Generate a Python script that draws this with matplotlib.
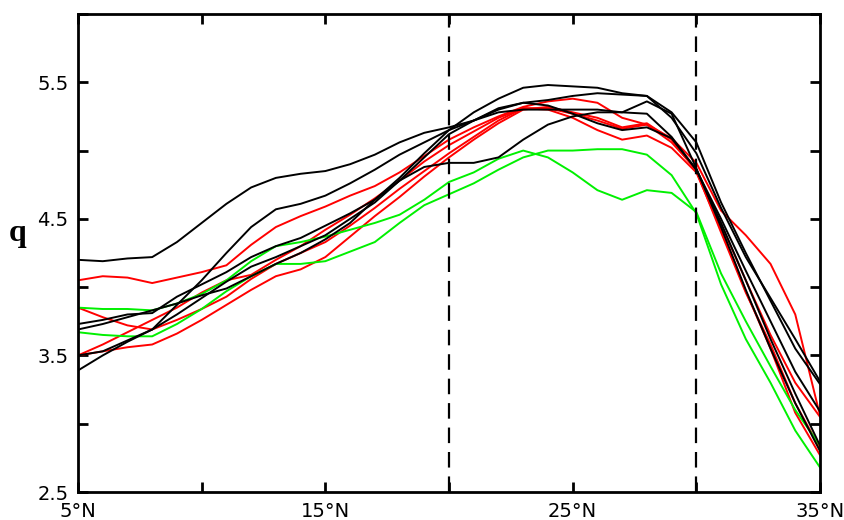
import matplotlib
matplotlib.use("Agg")
import matplotlib.pyplot as plt
import numpy as np

lat = list(range(5, 36))

black_1 = [4.20, 4.19, 4.21, 4.22, 4.33, 4.47, 4.61, 4.73, 4.80, 4.83, 4.85, 4.90, 4.97, 5.06, 5.13, 5.17,
           5.22, 5.28, 5.30, 5.30, 5.30, 5.30, 5.28, 5.27, 5.10, 4.86, 4.47, 4.05, 3.62, 3.22, 2.84]
black_2 = [3.73, 3.76, 3.80, 3.81, 3.93, 4.02, 4.11, 4.22, 4.30, 4.36, 4.45, 4.54, 4.64, 4.80, 4.98, 5.15,
           5.22, 5.30, 5.35, 5.37, 5.40, 5.42, 5.41, 5.40, 5.24, 4.98, 4.58, 4.22, 3.92, 3.62, 3.31]
black_3 = [3.69, 3.73, 3.78, 3.83, 3.88, 3.94, 3.99, 4.08, 4.17, 4.25, 4.35, 4.47, 4.64, 4.78, 4.88, 4.91,
           4.91, 4.95, 5.08, 5.19, 5.25, 5.28, 5.28, 5.36, 5.27, 4.87, 4.44, 3.98, 3.55, 3.15, 2.80]
black_4 = [3.50, 3.53, 3.61, 3.69, 3.80, 3.92, 4.04, 4.15, 4.22, 4.30, 4.38, 4.50, 4.62, 4.78, 4.95, 5.12,
           5.22, 5.31, 5.35, 5.33, 5.27, 5.20, 5.15, 5.17, 5.09, 4.86, 4.50, 4.12, 3.75, 3.38, 3.09]
black_5 = [3.39, 3.50, 3.60, 3.69, 3.87, 4.05, 4.25, 4.44, 4.57, 4.61, 4.67, 4.76, 4.86, 4.97, 5.06, 5.15,
           5.28, 5.38, 5.46, 5.48, 5.47, 5.46, 5.42, 5.40, 5.28, 5.06, 4.62, 4.25, 3.90, 3.55, 3.29]

red_1 = [4.05, 4.08, 4.07, 4.03, 4.07, 4.11, 4.16, 4.31, 4.44, 4.52, 4.59, 4.67, 4.74, 4.84, 4.96, 5.08,
         5.17, 5.25, 5.32, 5.36, 5.38, 5.35, 5.24, 5.19, 5.09, 4.91, 4.56, 4.38, 4.17, 3.80, 3.06]
red_2 = [3.85, 3.78, 3.72, 3.69, 3.76, 3.84, 3.93, 4.06, 4.17, 4.25, 4.33, 4.45, 4.58, 4.72, 4.85, 4.98,
         5.10, 5.22, 5.31, 5.31, 5.27, 5.22, 5.16, 5.19, 5.06, 4.86, 4.46, 4.05, 3.65, 3.30, 3.05]
red_3 = [3.50, 3.58, 3.67, 3.76, 3.85, 3.96, 4.05, 4.09, 4.20, 4.30, 4.42, 4.53, 4.65, 4.78, 4.92, 5.04,
         5.14, 5.24, 5.31, 5.30, 5.24, 5.15, 5.08, 5.11, 5.02, 4.84, 4.42, 3.97, 3.55, 3.08, 2.77]
red_4 = [3.50, 3.53, 3.56, 3.58, 3.66, 3.76, 3.87, 3.98, 4.08, 4.13, 4.22, 4.37, 4.52, 4.66, 4.81, 4.95,
         5.08, 5.20, 5.30, 5.32, 5.28, 5.24, 5.17, 5.20, 5.08, 4.85, 4.40, 3.96, 3.58, 3.15, 2.82]

green_1 = [3.85, 3.84, 3.84, 3.83, 3.88, 3.95, 4.05, 4.19, 4.30, 4.33, 4.37, 4.42, 4.47, 4.53, 4.64, 4.77,
           4.84, 4.94, 5.00, 4.95, 4.84, 4.71, 4.64, 4.71, 4.69, 4.55, 4.10, 3.75, 3.42, 3.10, 2.84]
green_2 = [3.67, 3.65, 3.64, 3.64, 3.73, 3.84, 3.97, 4.08, 4.17, 4.17, 4.19, 4.26, 4.33, 4.47, 4.60, 4.68,
           4.76, 4.86, 4.95, 5.00, 5.00, 5.01, 5.01, 4.97, 4.82, 4.54, 4.02, 3.62, 3.30, 2.95, 2.68]

series = [(red_1, "#ff0000"), (red_2, "#ff0000"), (red_3, "#ff0000"), (red_4, "#ff0000"),
          (green_1, "#00f000"), (green_2, "#00f000"),
          (black_1, "black"), (black_2, "black"), (black_3, "black"), (black_4, "black"), (black_5, "black")]

dashed_lats = [20, 30]
xtick_pos = [5, 10, 15, 20, 25, 30, 35]
xtick_labels = ["5°N", "", "15°N", "", "25°N", "", "35°N"]
ytick_pos = [2.5, 3.0, 3.5, 4.0, 4.5, 5.0, 5.5, 6.0]
ytick_labels = ["2.5", "", "3.5", "", "4.5", "", "5.5", ""]

fig = plt.figure(figsize=(8.44, 5.2), dpi=100)
ax = fig.add_axes([78/844, 28/520, (820-78)/844, (492-14)/520])

for vals, col in series:
    ax.plot(lat, vals, color=col, lw=1.4)

for xd in dashed_lats:
    ax.axvline(xd, color="black", lw=1.6, linestyle=(0, (7, 4)))

ax.set_xlim(5, 35)
ax.set_ylim(2.5, 6.0)
ax.set_xticks(xtick_pos)
ax.set_xticklabels(xtick_labels, fontsize=14, family="DejaVu Sans")
ax.set_yticks(ytick_pos)
ax.set_yticklabels(ytick_labels, fontsize=14, family="DejaVu Sans")
ax.tick_params(direction="in", length=7.5, width=2, top=True, right=True)
ax.tick_params(axis="x", pad=7)
ax.tick_params(axis="y", pad=7)
for s in ax.spines.values():
    s.set_linewidth(2)

fig.text(18/844, 1 - 234/520, "q", fontsize=23, fontweight="bold", family="Liberation Serif",
         ha="center", va="center")

fig.savefig("out.png", dpi=100)
